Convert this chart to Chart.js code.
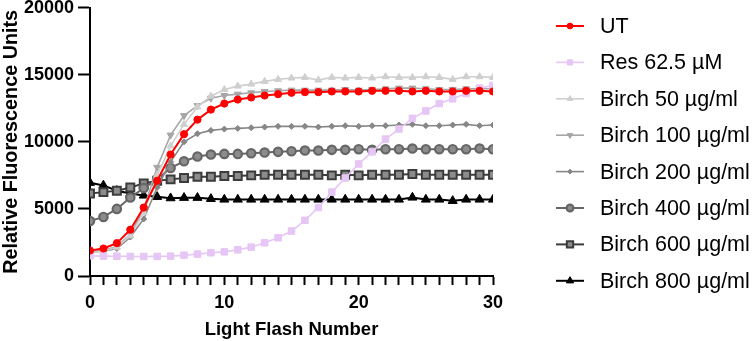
<!DOCTYPE html>
<html>
<head>
<meta charset="utf-8">
<script src="https://cdn.jsdelivr.net/npm/chart.js@4.4.1/dist/chart.umd.min.js"></script>
<style>
  html, body { margin: 0; padding: 0; background: #fff; }
  #wrap { width: 752px; height: 341px; position: relative; }
</style>
</head>
<body>
<div id="wrap"><canvas id="flashChart"></canvas></div>
<script>
// Data
const flashes = Array.from({ length: 31 }, (_, i) => i);
const seriesNames = ["UT", "Res 62.5 µM", "Birch 50 µg/ml", "Birch 100 µg/ml",
  "Birch 200 µg/ml", "Birch 400 µg/ml", "Birch 600 µg/ml", "Birch 800 µg/ml"];

const ut = [1900, 2050, 2450, 3450, 5100, 7100, 9050, 10570, 11650, 12400, 12850,
  13150, 13300, 13450, 13550, 13650, 13700, 13700, 13750, 13750, 13750,
  13800, 13800, 13800, 13750, 13800, 13750, 13750, 13800, 13800, 13750];
const res625 = [1500, 1480, 1470, 1460, 1450, 1460, 1480, 1550, 1630, 1730, 1800,
  1950, 2150, 2470, 2850, 3350, 4150, 5100, 6250, 7300, 8350,
  9250, 10200, 10950, 11750, 12300, 12850, 13200, 13600, 14000, 14200];
const birch50 = [1750, 1850, 2150, 3000, 4700, 7500, 9700, 11300, 12600, 13400, 13900,
  14150, 14300, 14500, 14650, 14750, 14800, 14600, 14800, 14750, 14800,
  14750, 14850, 14800, 14800, 14850, 14800, 14650, 14850, 14850, 14800];
const birch100 = [1800, 1900, 2200, 3100, 5000, 8100, 10500, 11950, 12700, 13250, 13450,
  13550, 13650, 13750, 13800, 13850, 13850, 13850, 13850, 13900, 13850,
  13900, 13950, 14000, 14000, 13950, 13900, 13900, 13950, 13950, 13950];
const birch200 = [1800, 1850, 2050, 2900, 4250, 6600, 8500, 10000, 10600, 10850, 10950,
  11000, 11050, 11100, 11150, 11150, 11150, 11100, 11150, 11200, 11150,
  11200, 11200, 11250, 11300, 11200, 11200, 11250, 11300, 11200, 11250];
const birch400 = [4100, 4400, 5000, 5850, 6550, 7200, 8050, 8550, 8900, 9050, 9100,
  9100, 9150, 9200, 9250, 9300, 9350, 9350, 9400, 9400, 9450,
  9400, 9450, 9450, 9500, 9450, 9450, 9450, 9450, 9500, 9450];
const birch600 = [6150, 6250, 6350, 6600, 6900, 7100, 7200, 7300, 7400, 7400, 7450,
  7450, 7500, 7550, 7550, 7550, 7550, 7550, 7500, 7550, 7500,
  7550, 7550, 7550, 7600, 7550, 7550, 7550, 7550, 7550, 7550];
const birch800 = [6950, 6750, 6350, 6150, 6000, 5900, 5800, 5830, 5830, 5750, 5700,
  5700, 5700, 5700, 5700, 5700, 5700, 5700, 5700, 5700, 5700,
  5700, 5700, 5700, 5850, 5700, 5700, 5600, 5700, 5700, 5700];

const yTicks = [0, 5000, 10000, 15000, 20000];
const xTickLabels = [0, 10, 20, 30];

const FONT = 'Arial, "Liberation Sans", Helvetica, sans-serif';

// Styles for each series, in the same order as seriesNames
const styles = [
  { color: "#ff0000", fill: "#ff0000", point: "circle", radius: 3.6, rotation: 0, lw: 2, bw: 1 },
  { color: "#e6c6f4", fill: "#e6c6f4", point: "rect", radius: 4.6, rotation: 0, lw: 1.6, bw: 1 },
  { color: "#cfcfcf", fill: "#cfcfcf", point: "triangle", radius: 4, rotation: 0, lw: 1.6, bw: 1 },
  { color: "#a6a6a6", fill: "#a6a6a6", point: "triangle", radius: 4, rotation: 180, lw: 1.6, bw: 1 },
  { color: "#878787", fill: "#878787", point: "rectRot", radius: 3, rotation: 0, lw: 1.6, bw: 1 },
  { color: "#666666", fill: "#8c8c8c", point: "circle", radius: 4.2, rotation: 0, lw: 2, bw: 2.2 },
  { color: "#3c3c3c", fill: "#8c8c8c", point: "rect", radius: 5.6, rotation: 0, lw: 2, bw: 2 },
  { color: "#000000", fill: "#000000", point: "triangle", radius: 5.2, rotation: 0, lw: 2, bw: 1 },
];
const values = [ut, res625, birch50, birch100, birch200, birch400, birch600, birch800];

const datasets = seriesNames.map((name, i) => ({
  label: name,
  data: flashes.map((x, j) => ({ x: x, y: values[i][j] })),
  borderColor: styles[i].color,
  backgroundColor: styles[i].fill,
  borderWidth: styles[i].lw,
  pointStyle: styles[i].point,
  pointRadius: styles[i].radius,
  pointRotation: styles[i].rotation,
  pointBorderColor: styles[i].color,
  pointBackgroundColor: styles[i].fill,
  pointBorderWidth: styles[i].bw,
  tension: 0,
}));

// Legend drawn at right: short line with marker, then the label
const sideLegend = {
  id: "sideLegend",
  afterDraw(chart) {
    const ctx = chart.ctx;
    ctx.save();
    seriesNames.forEach((name, i) => {
      const y = 26 + i * 36.4;
      const s = styles[i];
      ctx.strokeStyle = s.color;
      ctx.lineWidth = s.lw;
      ctx.beginPath();
      ctx.moveTo(556, y);
      ctx.lineTo(584, y);
      ctx.stroke();
      ctx.fillStyle = s.fill;
      ctx.strokeStyle = s.color;
      ctx.lineWidth = s.bw;
      Chart.helpers.drawPoint(ctx, {
        pointStyle: s.point,
        radius: s.radius * 0.8,
        rotation: s.rotation,
        borderWidth: s.bw,
      }, 570, y);
      ctx.fillStyle = "#000";
      ctx.font = "21.5px " + FONT;
      ctx.textBaseline = "middle";
      ctx.fillText(name, 600, y + 1);
    });
    ctx.restore();
  },
};

document.addEventListener("DOMContentLoaded", () => {
  const canvas = document.getElementById("flashChart");
  new Chart(canvas, {
    type: "line",
    data: { datasets: datasets },
    options: {
      responsive: true,
      maintainAspectRatio: false,
      animation: false,
      layout: { padding: { top: 6, right: 259, left: 0, bottom: 0 } },
      plugins: { legend: { display: false }, tooltip: { enabled: false } },
      scales: {
        x: {
          type: "linear",
          min: 0,
          max: 30,
          afterFit: (scale) => { scale.height = 65; scale.paddingLeft = 0; scale.paddingRight = 0; },
          border: { display: true, color: "#000", width: 2 },
          grid: {
            display: true,
            drawOnChartArea: false,
            drawTicks: true,
            tickLength: 9,
            tickColor: "#000",
            tickWidth: 2,
          },
          ticks: {
            stepSize: 1,
            autoSkip: false,
            maxRotation: 0,
            color: "#000",
            padding: 7,
            font: { family: FONT, size: 18, weight: "bold" },
            callback: (v) => (xTickLabels.includes(v) ? String(v) : ""),
          },
          title: {
            display: true,
            text: "Light Flash Number",
            color: "#000",
            padding: { top: 3, bottom: 0 },
            font: { family: FONT, size: 18.5, weight: "bold" },
          },
        },
        y: {
          type: "linear",
          min: 0,
          max: 20000,
          afterFit: (scale) => { scale.width = 90; scale.paddingTop = 0; scale.paddingBottom = 0; },
          afterBuildTicks: (scale) => { scale.ticks = yTicks.map((v) => ({ value: v })); },
          border: { display: true, color: "#000", width: 2 },
          grid: {
            display: true,
            drawOnChartArea: false,
            drawTicks: true,
            tickLength: 12,
            tickColor: "#000",
            tickWidth: 2,
          },
          ticks: {
            color: "#000",
            padding: 4,
            font: { family: FONT, size: 18, weight: "bold" },
            callback: (v) => String(v),
          },
          title: {
            display: true,
            text: "Relative Fluorescence Units",
            color: "#000",
            padding: { top: 0, bottom: 0 },
            font: { family: FONT, size: 19.8, weight: "bold" },
          },
        },
      },
    },
    plugins: [sideLegend],
  });
});
</script>
</body>
</html>
